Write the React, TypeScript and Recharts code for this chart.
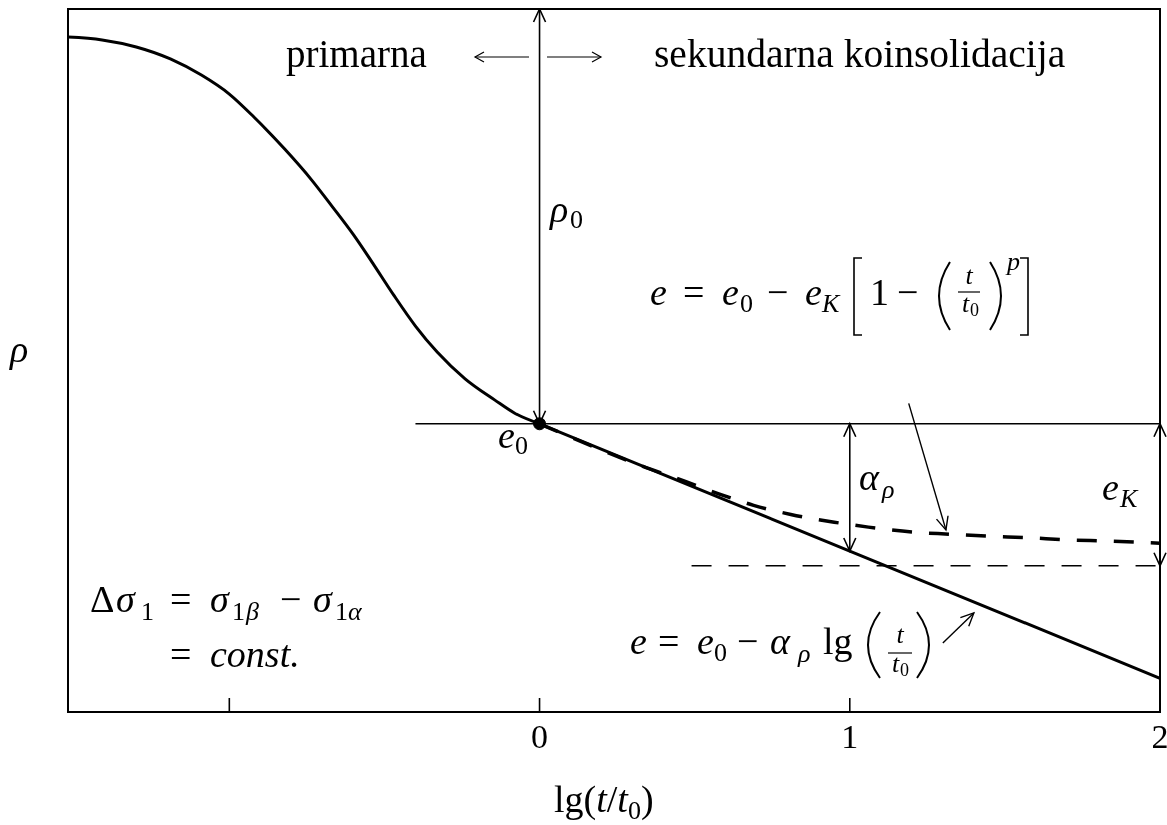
import React from 'react';
import {
  LineChart,
  Line,
  XAxis,
  YAxis,
  ReferenceLine,
  ReferenceDot,
  ReferenceArea,
  Customized,
} from 'recharts';

// x = lg(t/t0), e = void ratio (relative units, 0..100 over the frame)
const primaryX = [-1.52, -1.41, -1.3, -1.19, -1.09, -1.0, -0.92, -0.82, -0.735, -0.67, -0.6, -0.54, -0.47, -0.4, -0.33, -0.24, -0.145, -0.08, 0];
const primaryE = [96.0, 95.6, 94.6, 92.9, 90.6, 87.9, 84.6, 80.0, 75.7, 72.0, 67.9, 64.0, 59.3, 54.9, 51.2, 47.4, 44.4, 42.5, 41.0];

// secondary compression, e = e0 - a_rho * lg(t/t0)
const secondaryX = [0, 1, 2];
const secondaryE = [41.0, 22.9, 4.8];

// creep curve e = e0 - eK [1 - (t/t0)^p]
const creepX = [0, 0.33, 0.47, 0.58, 0.69, 0.81, 0.95, 1.06, 1.2, 1.32, 1.45, 1.57, 1.7, 1.84, 2.0];
const creepE = [41.0, 35.0, 32.8, 31.0, 29.4, 28.1, 27.0, 26.3, 25.6, 25.3, 25.0, 24.8, 24.5, 24.3, 24.0];

const xTicks = [-1, 0, 1, 2];
const xLabels: Record<number, string> = { 0: '0', 1: '1', 2: '2' };

const X_MIN = -1.52;
const X_MAX = 2;
const E_TOP = 100;
const E0 = 41.0;
const E_ASYMPTOTE = 20.8;

const primary = primaryX.map((x, i) => ({ x, e: primaryE[i] }));
const secondary = secondaryX.map((x, i) => ({ x, e: secondaryE[i] }));
const creep = creepX.map((x, i) => ({ x, e: creepE[i] }));

const FONT = "'Liberation Serif', 'Times New Roman', serif";

const arrowHead = (tx: number, ty: number, fx: number, fy: number, len = 13, half = 6) => {
  const dx = tx - fx;
  const dy = ty - fy;
  const d = Math.hypot(dx, dy) || 1;
  const ux = dx / d;
  const uy = dy / d;
  const bx = tx - ux * len;
  const by = ty - uy * len;
  return `M${bx - uy * half},${by + ux * half} L${tx},${ty} L${bx + uy * half},${by - ux * half}`;
};

const arrowShape = (start: boolean, end: boolean, width = 1.6) => (p: any) => (
  <g stroke="#000" strokeWidth={width} fill="none">
    <line x1={p.x1} y1={p.y1} x2={p.x2} y2={p.y2} />
    {start && <path d={arrowHead(p.x1, p.y1, p.x2, p.y2)} />}
    {end && <path d={arrowHead(p.x2, p.y2, p.x1, p.y1)} />}
  </g>
);

const XTick = (props: any) => {
  const { x, y, payload } = props;
  const label = xLabels[payload.value];
  return (
    <g>
      <line x1={x} x2={x} y1={y - 14} y2={y} stroke="#000" strokeWidth={1.6} />
      {label && (
        <text x={x} y={y + 36} textAnchor="middle" fontFamily={FONT} fontSize={34} fill="#000">
          {label}
        </text>
      )}
    </g>
  );
};

const T = ({ x, y, s = 38, i = false, a = 'start', children }: any) => (
  <text x={x} y={y} fontSize={s} fontStyle={i ? 'italic' : 'normal'} textAnchor={a} fontFamily={FONT} fill="#000">
    {children}
  </text>
);

const Annotations = () => (
  <g>
    {/* headings */}
    <T x={278} y={59} s={39}>primarna</T>
    <T x={646} y={59} s={39.5}>sekundarna koinsolidacija</T>
    <g stroke="#000" strokeWidth={1.2} fill="none">
      <line x1={467} y1={49} x2={521} y2={49} />
      <path d={arrowHead(467, 49, 521, 49, 9, 5)} />
      <line x1={539} y1={49} x2={593} y2={49} />
      <path d={arrowHead(593, 49, 539, 49, 9, 5)} />
    </g>

    {/* axis labels */}
    <T x={2} y={354} i>ρ</T>
    <text x={546} y={804} fontSize={38} fontFamily={FONT} fill="#000">
      lg(<tspan fontStyle="italic">t</tspan>/<tspan fontStyle="italic">t</tspan>
      <tspan fontSize={26} dy={7}>0</tspan>
      <tspan dy={-7}>)</tspan>
    </text>

    {/* point and distance labels */}
    <T x={542} y={214} i>ρ</T>
    <T x={562} y={220} s={26}>0</T>
    <T x={490} y={440} i>e</T>
    <T x={507} y={446} s={26}>0</T>
    <T x={851} y={482} i>α</T>
    <T x={874} y={490} s={26} i>ρ</T>
    <T x={1094} y={492} i>e</T>
    <T x={1112} y={499} s={26} i>K</T>

    {/* e = e0 - eK [1 - (t/t0)^p] */}
    <T x={642} y={297} i>e</T>
    <T x={675} y={297}>=</T>
    <T x={714} y={297} i>e</T>
    <T x={732} y={304} s={26}>0</T>
    <T x={759} y={297}>−</T>
    <T x={797} y={297} i>e</T>
    <T x={814} y={304} s={26} i>K</T>
    <T x={862} y={297}>1</T>
    <T x={889} y={297}>−</T>
    <T x={961} y={276} s={26} i a="middle">t</T>
    <T x={954} y={304} s={26} i>t</T>
    <T x={962} y={308} s={18}>0</T>
    <T x={999} y={262} s={26} i>p</T>
    <g stroke="#000" fill="none">
      <path d="M854,250 L846,250 L846,327 L854,327" strokeWidth={1.6} />
      <path d="M1012,250 L1020,250 L1020,327 L1012,327" strokeWidth={1.6} />
      <path d="M942,254 Q920,288 942,322" strokeWidth={2} />
      <path d="M982,254 Q1004,288 982,322" strokeWidth={2} />
      <line x1={950} x2={972} y1={284} y2={284} strokeWidth={1.2} />
    </g>

    {/* e = e0 - a_rho lg(t/t0) */}
    <T x={622} y={646} i>e</T>
    <T x={650} y={646}>=</T>
    <T x={689} y={646} i>e</T>
    <T x={706} y={653} s={26}>0</T>
    <T x={729} y={646}>−</T>
    <T x={762} y={646} i>α</T>
    <T x={790} y={654} s={26} i>ρ</T>
    <T x={815} y={646}>lg</T>
    <T x={892} y={635} s={26} i a="middle">t</T>
    <T x={884} y={664} s={26} i>t</T>
    <T x={892} y={668} s={18}>0</T>
    <g stroke="#000" fill="none">
      <path d="M872,604 Q848,637 872,670" strokeWidth={2} />
      <path d="M909,604 Q933,637 909,670" strokeWidth={2} />
      <line x1={880} x2={904} y1={645} y2={645} strokeWidth={1.2} />
    </g>

    {/* loading condition */}
    <T x={82} y={604}>Δ</T>
    <T x={108} y={604} i>σ</T>
    <T x={133} y={612} s={26}>1</T>
    <T x={162} y={604}>=</T>
    <T x={202} y={604} i>σ</T>
    <T x={224} y={612} s={26}>1</T>
    <T x={238} y={612} s={26} i>β</T>
    <T x={272} y={604}>−</T>
    <T x={305} y={604} i>σ</T>
    <T x={327} y={612} s={26}>1</T>
    <T x={340} y={612} s={26} i>α</T>
    <T x={162} y={659}>=</T>
    <T x={202} y={659} i>const.</T>
  </g>
);

export default function App() {
  return (
    <div style={{ position: 'fixed', left: 8, top: 8, width: 1159, height: 817 }}>
      <LineChart width={1159} height={817} margin={{ top: 1, right: 7, left: 60, bottom: 53 }}>
        <XAxis
          type="number"
          dataKey="x"
          domain={[X_MIN, X_MAX]}
          ticks={xTicks}
          interval={0}
          axisLine={false}
          tickLine={false}
          tickSize={0}
          tickMargin={0}
          height={60}
          tick={<XTick />}
          allowDataOverflow
        />
        <YAxis type="number" dataKey="e" domain={[0, E_TOP]} hide allowDataOverflow />

        <ReferenceArea x1={X_MIN} x2={X_MAX} y1={0} y2={E_TOP} fill="none" fillOpacity={0} stroke="#000" strokeWidth={2} />

        <ReferenceLine segment={[{ x: -0.4, y: E0 }, { x: X_MAX, y: E0 }]} stroke="#000" strokeWidth={1.5} />
        <ReferenceLine
          segment={[{ x: 0.49, y: E_ASYMPTOTE }, { x: X_MAX, y: E_ASYMPTOTE }]}
          stroke="#000"
          strokeWidth={1.6}
          strokeDasharray="20 17"
        />

        <Line data={primary} dataKey="e" type="monotone" stroke="#000" strokeWidth={3} dot={false} activeDot={false} isAnimationActive={false} />
        <Line data={secondary} dataKey="e" type="linear" stroke="#000" strokeWidth={3} dot={false} activeDot={false} isAnimationActive={false} />
        <Line
          data={creep}
          dataKey="e"
          type="monotone"
          stroke="#000"
          strokeWidth={3.5}
          strokeDasharray="20 17"
          dot={false}
          activeDot={false}
          isAnimationActive={false}
        />

        {/* dimension arrows */}
        <ReferenceLine segment={[{ x: 0, y: E_TOP }, { x: 0, y: E0 }]} shape={arrowShape(true, true)} />
        <ReferenceLine segment={[{ x: 1, y: E0 }, { x: 1, y: 22.9 }]} shape={arrowShape(true, true)} />
        <ReferenceLine segment={[{ x: 2, y: E0 }, { x: 2, y: E_ASYMPTOTE }]} shape={arrowShape(true, true)} />

        {/* pointers to the formulas */}
        <ReferenceLine segment={[{ x: 1.19, y: 43.9 }, { x: 1.31, y: 25.9 }]} shape={arrowShape(false, true, 1.4)} />
        <ReferenceLine segment={[{ x: 1.3, y: 9.8 }, { x: 1.4, y: 14.1 }]} shape={arrowShape(false, true, 1.4)} />

        <ReferenceDot x={0} y={E0} r={6} fill="#000" stroke="#000" />

        <Customized component={<Annotations />} />
      </LineChart>
    </div>
  );
}
